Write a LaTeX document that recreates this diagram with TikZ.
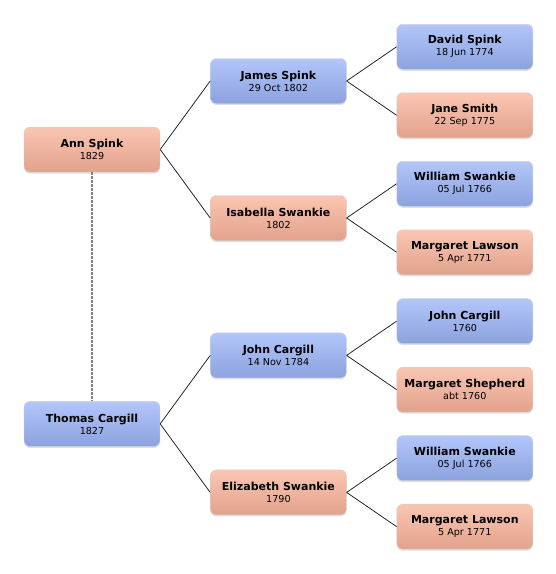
\documentclass[tikz,border=0pt]{standalone}
\usepackage{fontspec}
\setmainfont{DejaVu Sans}
\usepackage{tikz}
\usetikzlibrary{positioning, shadows}

\definecolor{bluetop}{RGB}{178,198,250}
\definecolor{bluebot}{RGB}{140,162,222}
\definecolor{pinktop}{RGB}{250,198,178}
\definecolor{pinkbot}{RGB}{226,162,140}

\newcommand{\pname}[1]{{\fontsize{11}{13}\selectfont\bfseries #1}}

\begin{document}
\begin{tikzpicture}[
	x=1pt, y=1pt,
	font=\fontsize{9.6}{12}\selectfont,
	node distance=50pt,
	person/.style={
		draw=black!18,
		rectangle,
		rounded corners=6pt,
		align=center,
		minimum width=136pt,
		minimum height=45pt,
		inner sep=3pt,
		drop shadow={opacity=0.25, shadow xshift=0pt, shadow yshift=-1.5pt}
	},
	male/.style={person, top color=bluetop, bottom color=bluebot},
	female/.style={person, top color=pinktop, bottom color=pinkbot},
	link/.style={line width=0.8pt, black!85},
	spouse/.style={line width=1.4pt, black!50, dash pattern=on 2.5pt off 1.5pt}
	]
	
	\useasboundingbox (0,0) rectangle (556,-574);
	
	% Couple
	\node[female] (ann) at (92,-149.5) {\pname{Ann Spink}\\1829};
	\node[male, below=229pt of ann] (thomas) {\pname{Thomas Cargill}\\1827};
	
	% Parents
	\node[male, right=of ann, yshift=68.5pt] (james) {\pname{James Spink}\\29 Oct 1802};
	\node[female, right=of ann, yshift=-68.5pt] (isabella) {\pname{Isabella Swankie}\\1802};
	\node[male, right=of thomas, yshift=68.5pt] (johnc) {\pname{John Cargill}\\14 Nov 1784};
	\node[female, right=of thomas, yshift=-68.5pt] (elizabeth) {\pname{Elizabeth Swankie}\\1790};
	
	% Grandparents
	\node[male, right=of james, yshift=34.25pt] (david) {\pname{David Spink}\\18 Jun 1774};
	\node[female, right=of james, yshift=-34.25pt] (jane) {\pname{Jane Smith}\\22 Sep 1775};
	\node[male, right=of isabella, yshift=34.25pt] (williamA) {\pname{William Swankie}\\05 Jul 1766};
	\node[female, right=of isabella, yshift=-34.25pt] (margaretA) {\pname{Margaret Lawson}\\5 Apr 1771};
	\node[male, right=of johnc, yshift=34.25pt] (johncsr) {\pname{John Cargill}\\1760};
	\node[female, right=of johnc, yshift=-34.25pt] (shepherd) {\pname{Margaret Shepherd}\\abt 1760};
	\node[male, right=of elizabeth, yshift=34.25pt] (williamB) {\pname{William Swankie}\\05 Jul 1766};
	\node[female, right=of elizabeth, yshift=-34.25pt] (margaretB) {\pname{Margaret Lawson}\\5 Apr 1771};
	
	% Links
	\draw[spouse] (ann) -- (thomas);
	\draw[link] (ann.east) -- (james.west);
	\draw[link] (ann.east) -- (isabella.west);
	\draw[link] (thomas.east) -- (johnc.west);
	\draw[link] (thomas.east) -- (elizabeth.west);
	\draw[link] (james.east) -- (david.west);
	\draw[link] (james.east) -- (jane.west);
	\draw[link] (isabella.east) -- (williamA.west);
	\draw[link] (isabella.east) -- (margaretA.west);
	\draw[link] (johnc.east) -- (johncsr.west);
	\draw[link] (johnc.east) -- (shepherd.west);
	\draw[link] (elizabeth.east) -- (williamB.west);
	\draw[link] (elizabeth.east) -- (margaretB.west);
	
\end{tikzpicture}
\end{document}
